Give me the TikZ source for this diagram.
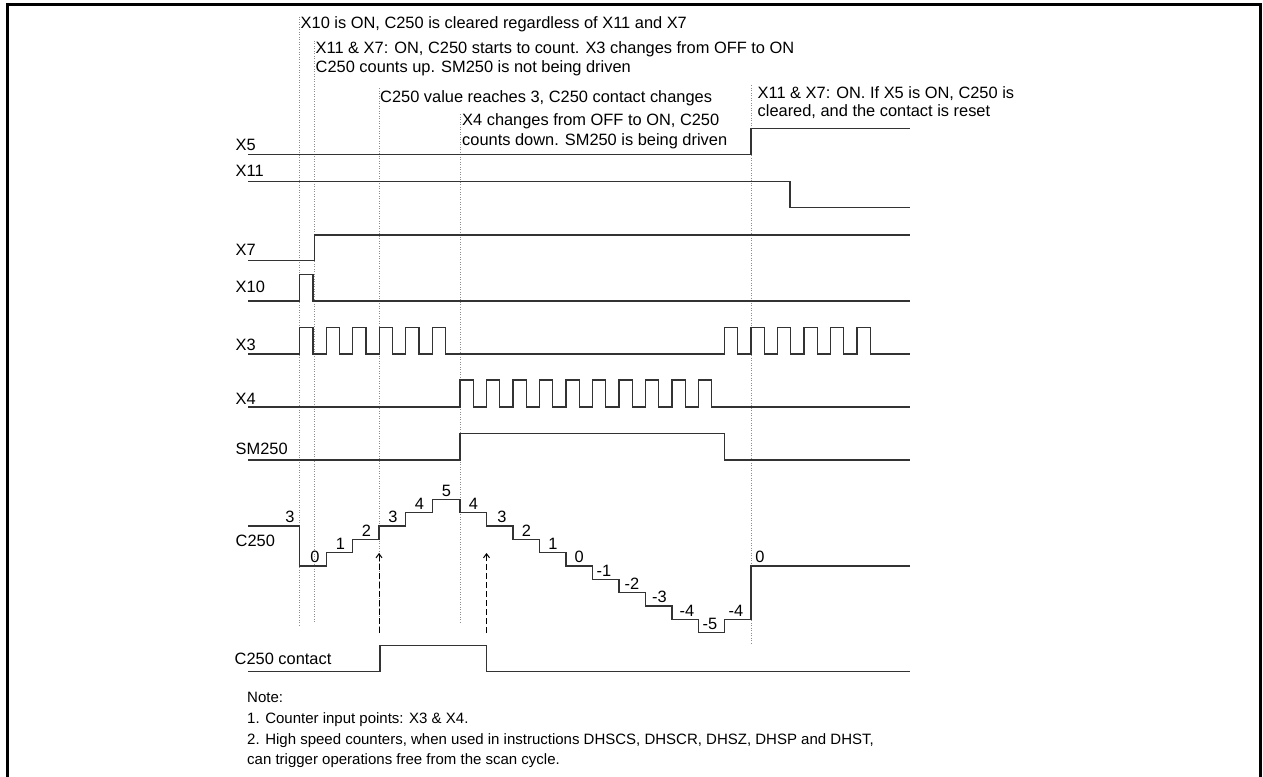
\documentclass[tikz,border=0pt]{standalone}
\usepackage{fontspec}
\setmainfont{Liberation Sans}
\usetikzlibrary{arrows.meta}
\begin{document}
\begin{tikzpicture}[x=1pt,y=-1pt,
  sig/.style={draw=black!80,line width=1.3pt,line join=miter},
  guide/.style={draw=black!45,line width=0.9pt,dash pattern=on 1pt off 1.5pt},
  frame/.style={draw=black,line width=3pt},
  lbl/.style={anchor=base west,inner sep=0pt,font=\fontsize{16.4}{18}\selectfont},
  ann/.style={anchor=base west,inner sep=0pt,font=\fontsize{16.4}{18}\selectfont},
  val/.style={anchor=base,inner sep=0pt,font=\fontsize{16.4}{18}\selectfont},
  note/.style={anchor=base west,inner sep=0pt,font=\fontsize{15.0}{18}\selectfont},
  marker/.style={draw=black,line width=1pt,dash pattern=on 6pt off 3pt,-{Straight Barb[length=4pt,width=6pt]}}
]
\useasboundingbox (0,0) rectangle (1263,776);
\fill[white] (0,0) rectangle (1263,776);
% frame
\draw[frame] (7,777) -- (7,5) -- (1260,5) -- (1260,777);

% guide lines
\coordinate (g1t) at (299.7,17);  \coordinate (g1b) at (299.7,625);
\coordinate (g2t) at (314.7,41);  \coordinate (g2b) at (314.7,622);
\coordinate (g3t) at (379,88);    \coordinate (g3b) at (379,630);
\coordinate (g4t) at (460,114);   \coordinate (g4b) at (460,622);
\coordinate (g5t) at (751,85);    \coordinate (g5b) at (751,643);
\draw[guide] (g1t) -- (g1b);
\draw[guide] (g2t) -- (g2b);
\draw[guide] (g3t) -- (g3b);
\draw[guide] (g4t) -- (g4b);
\draw[guide] (g5t) -- (g5b);

% annotations
\node[ann] (a1) at (300.5,28.5) {X10 is ON, C250 is cleared regardless of X11 and X7};
\node[ann] (a2) at (315.5,54) {X11 \& X7: ON, C250 starts to count. X3 changes from OFF to ON};
\node[ann] (a2b) at (315.5,72.5) {C250 counts up. SM250 is not being driven};
\node[ann] (a3) at (380,102.5) {C250 value reaches 3, C250 contact changes};
\node[ann] (a4) at (462,125.5) {X4 changes from OFF to ON, C250};
\node[ann] (a4b) at (462,145) {counts down. SM250 is being driven};
\node[ann] (a5) at (757.5,98) {X11 \& X7: ON. If X5 is ON, C250 is};
\node[ann] (a5b) at (757.5,116.7) {cleared, and the contact is reset};

% signal labels
\node[lbl] (lX5) at (235.5,150) {X5};
\node[lbl] (lX11) at (235.5,176) {X11};
\node[lbl] (lX7) at (235.5,255) {X7};
\node[lbl] (lX10) at (235.5,292.7) {X10};
\node[lbl] (lX3) at (235.5,350) {X3};
\node[lbl] (lX4) at (235.5,404) {X4};
\node[lbl] (lSM) at (235.5,454) {SM250};
\node[lbl] (lC) at (235.5,546) {C250};
\node[lbl] (lCc) at (234.5,664) {C250 contact};

% X5
\draw[sig] (248,154.3) -- (751,154.3) -- (751,128.3) -- (910,128.3);
% X11
\draw[sig] (248,181.7) -- (790,181.7) -- (790,207.3) -- (910,207.3);
% X7
\draw[sig] (248,260.7) -- (314.7,260.7) -- (314.7,235) -- (910,235);
% X10
\draw[sig] (248,301) -- (299.7,301) -- (299.7,274.3) -- (313,274.3) -- (313,301) -- (910,301);
% X3
\draw[sig] (248,354)
  foreach \k in {0,...,5} { -- ({299.7+26.5*\k},354) -- ({299.7+26.5*\k},327.3) -- ({313+26.5*\k},327.3) -- ({313+26.5*\k},354) }
  foreach \k in {0,...,5} { -- ({724.5+26.5*\k},354) -- ({724.5+26.5*\k},327.3) -- ({737.8+26.5*\k},327.3) -- ({737.8+26.5*\k},354) }
  -- (910,354);
% X4
\draw[sig] (248,407)
  foreach \k in {0,...,9} { -- ({460+26.5*\k},407) -- ({460+26.5*\k},380) -- ({473.3+26.5*\k},380) -- ({473.3+26.5*\k},407) }
  -- (910,407);
% SM250
\draw[sig] (248,460) -- (460,460) -- (460,433.3) -- (724.5,433.3) -- (724.5,460) -- (910,460);
% C250
\draw[sig] (248,526.1) -- (299.7,526.1) -- (299.7,566) -- (326.2,566) -- (326.2,552.7)
  -- (352.7,552.7) -- (352.7,539.4) -- (379,539.4) -- (379,526.1) -- (405.7,526.1)
  -- (405.7,512.8) -- (432.2,512.8) -- (432.2,499.5) -- (460,499.5) -- (460,512.8)
  -- (486.5,512.8) -- (486.5,526.1) -- (513,526.1) -- (513,539.4) -- (539.5,539.4)
  -- (539.5,552.7) -- (566,552.7) -- (566,566) -- (592.5,566) -- (592.5,579.3)
  -- (619,579.3) -- (619,592.6) -- (645.5,592.6) -- (645.5,605.9) -- (672,605.9)
  -- (672,619.2) -- (698.5,619.2) -- (698.5,632.5) -- (724.5,632.5) -- (724.5,619.2)
  -- (751,619.2) -- (751,566) -- (910,566);
% C250 values
\node[val] (v1) at (290,522.9) {3};
\node[val] (v2) at (315,562.8) {0};
\node[val] (v3) at (340.5,549.5) {1};
\node[val] (v4) at (366.5,536.2) {2};
\node[val] (v5) at (393,522.9) {3};
\node[val] (v6) at (419.5,509.6) {4};
\node[val] (v7) at (446.5,496.3) {5};
\node[val] (v8) at (473.5,509.6) {4};
\node[val] (v9) at (502,522.9) {3};
\node[val] (v10) at (526.5,536.2) {2};
\node[val] (v11) at (553,549.5) {1};
\node[val] (v12) at (579.3,562.8) {0};
\node[val] (v13) at (604,576.1) {-1};
\node[val] (v14) at (632,589.4) {-2};
\node[val] (v15) at (659.5,602.7) {-3};
\node[val] (v16) at (687,616) {-4};
\node[val] (v17) at (710,629.3) {-5};
\node[val] (v18) at (736,616) {-4};
\node[val] (v19) at (760,562.8) {0};

% C250 contact
\draw[sig] (248,671.7) -- (380,671.7) -- (380,645.7) -- (486.5,645.7) -- (486.5,671.7) -- (910,671.7);

% dashed markers
\coordinate (m1b) at (379,633);   \coordinate (m1t) at (379,553);
\coordinate (m2b) at (486.5,633); \coordinate (m2t) at (486.5,553);
\draw[marker] (m1b) -- (m1t);
\draw[marker] (m2b) -- (m2t);

% note
\node[note] (n0) at (247,702) {Note:};
\node[note] (n1) at (247,723) {1. Counter input points: X3 \& X4.};
\node[note] (n2) at (247,744) {2. High speed counters, when used in instructions DHSCS, DHSCR, DHSZ, DHSP and DHST,};
\node[note] (n3) at (247,764) {can trigger operations free from the scan cycle.};
\end{tikzpicture}
\end{document}
